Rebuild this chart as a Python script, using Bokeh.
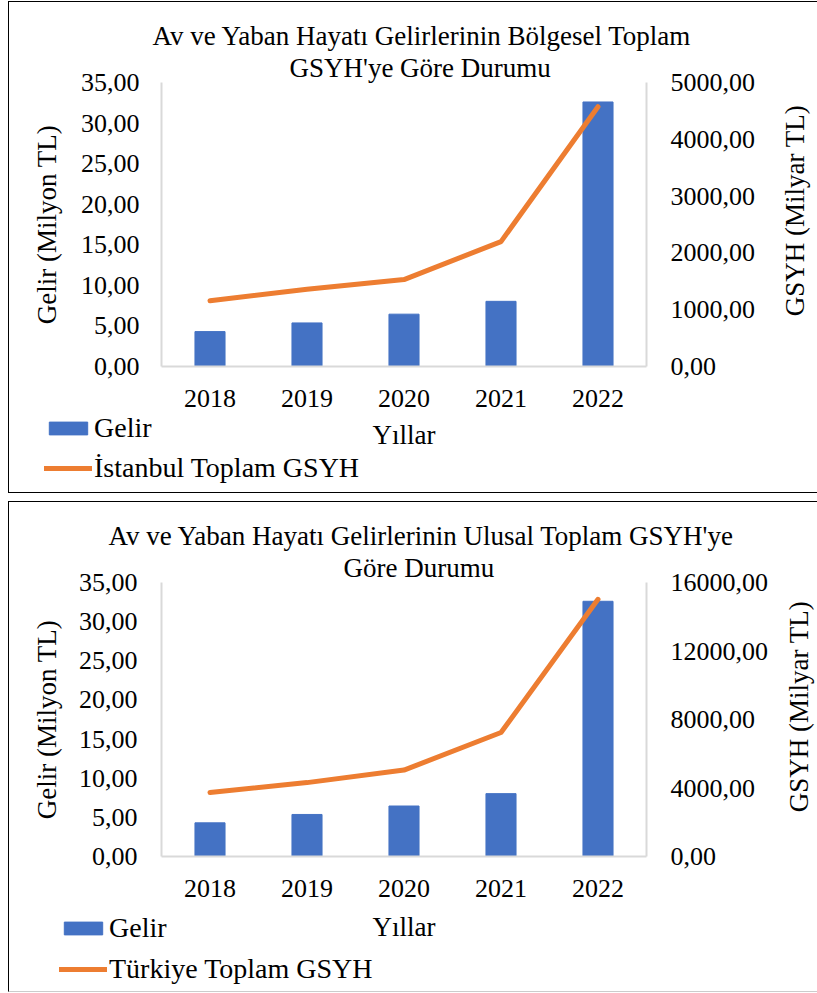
import math
from bokeh.plotting import figure
from bokeh.models import (FactorRange, Range1d, LinearAxis, FixedTicker,
                          Legend, LegendItem, Title)
from bokeh.core.properties import value
from bokeh.layouts import column
from bokeh.embed import file_html
from bokeh.resources import INLINE

# ---------------- data ----------------
years = ["2018", "2019", "2020", "2021", "2022"]
gelir = [4.30, 5.37, 6.45, 8.03, 32.60]            # Milyon TL
istanbul_gsyh = [1158, 1360, 1530, 2199, 4574]     # Milyar TL
turkiye_gsyh = [3740, 4315, 5045, 7240, 15020]     # Milyar TL

gelir_ticks = [0, 5, 10, 15, 20, 25, 30, 35]
gelir_tick_labels = ["0,00", "5,00", "10,00", "15,00", "20,00", "25,00", "30,00", "35,00"]
ist_ticks = [0, 1000, 2000, 3000, 4000, 5000]
ist_tick_labels = ["0,00", "1000,00", "2000,00", "3000,00", "4000,00", "5000,00"]
tr_ticks = [0, 4000, 8000, 12000, 16000]
tr_tick_labels = ["0,00", "4000,00", "8000,00", "12000,00", "16000,00"]

title1 = ["Av ve Yaban Hayatı Gelirlerinin Bölgesel Toplam", "GSYH'ye Göre Durumu"]
title2 = ["Av ve Yaban Hayatı Gelirlerinin Ulusal Toplam GSYH'ye", "Göre Durumu"]
gelir_axis_title = "Gelir (Milyon TL)"
gsyh_axis_title = "GSYH (Milyar TL)"
x_axis_title = "Yıllar"

FONT = "Liberation Serif"
BAR = "#4472C4"
LINE = "#ED7D31"
GRID = "#d9d9d9"
NAN = float("nan")


def panel(title_lines, title_offsets, gsyh, gsyh_max, gsyh_ticks, gsyh_labels,
          height, margin, mb_left, mb_right, mb_top, mb_bottom,
          lstand_left, alstand_left, lstand_right,
          x_stand, x_alstand, styles):
    p = figure(x_range=FactorRange(*years, range_padding=0),
               y_range=Range1d(0, 35),
               width=809, height=height, margin=margin,
               min_border_left=mb_left, min_border_right=mb_right,
               min_border_top=mb_top, min_border_bottom=mb_bottom,
               output_backend="svg", toolbar_location=None, tools="",
               outline_line_color=None, background_fill_color="white",
               border_fill_color="white", styles=styles)
    p.extra_y_ranges = {"gsyh": Range1d(0, gsyh_max)}

    # second title line first: it sits next to the frame
    for txt, off in reversed(list(zip(title_lines, title_offsets))):
        p.add_layout(Title(text=txt, align="left", offset=off, standoff=0,
                           text_font=FONT, text_font_size="27px",
                           text_font_style="normal", text_color="#000000"), "above")

    p.vbar(x=years, top=gelir, width=0.31, color=BAR, line_color=BAR)
    p.line(x=years, y=gsyh, y_range_name="gsyh", line_color=LINE,
           line_width=5, line_cap="round", line_join="round")

    p.xgrid.visible = False
    p.ygrid.visible = False

    la = p.yaxis[0]
    la.ticker = FixedTicker(ticks=gelir_ticks)
    la.major_label_overrides = dict(zip(gelir_ticks, gelir_tick_labels))
    la.axis_label = gelir_axis_title
    la.major_label_standoff = lstand_left
    la.axis_label_standoff = alstand_left

    ra = LinearAxis(y_range_name="gsyh", ticker=FixedTicker(ticks=gsyh_ticks))
    ra.major_label_overrides = dict(zip(gsyh_ticks, gsyh_labels))
    ra.major_label_standoff = lstand_right
    p.add_layout(ra, "right")

    xa = p.xaxis[0]
    xa.axis_label = x_axis_title
    xa.major_label_standoff = x_stand
    xa.axis_label_standoff = x_alstand

    for ax in (la, ra, xa):
        ax.axis_line_color = GRID
        ax.axis_line_width = 2
        ax.major_tick_line_color = None
        ax.minor_tick_line_color = None
        ax.major_tick_out = 0
        ax.major_tick_in = 0
        ax.major_label_text_font = FONT
        ax.major_label_text_font_size = "26px"
        ax.major_label_text_color = "#000000"
        ax.axis_label_text_font = FONT
        ax.axis_label_text_font_size = "27px"
        ax.axis_label_text_font_style = "normal"
        ax.axis_label_text_color = "#000000"
    return p


def overlay(line_label, height, margin, page_top, leg_loc, leg_spacing, rlabel_xy):
    """Transparent layer laid exactly over a chart panel (page-pixel coordinates):
    holds the legend and the right-hand axis title (read bottom to top)."""
    q = figure(width=809, height=height, margin=margin,
               x_range=Range1d(8, 817), y_range=Range1d(page_top + height, page_top),
               x_axis_type=None, y_axis_type=None,
               min_border=0, min_border_left=0, min_border_right=0,
               min_border_top=0, min_border_bottom=0,
               output_backend="svg", toolbar_location=None, tools="",
               outline_line_color=None, background_fill_alpha=0,
               border_fill_alpha=0,
               styles={"position": "relative", "z-index": "10"})
    try:
        q.frame_align = False
    except Exception:
        pass
    q.xgrid.visible = False
    q.ygrid.visible = False
    # legend-only renderers (no drawable point)
    b = q.vbar(x=[NAN], top=[NAN], width=0.31, color=BAR, line_color=BAR)
    l = q.line(x=[NAN, NAN], y=[NAN, NAN], line_color=LINE, line_width=5,
               line_cap="round", line_join="round")
    leg = Legend(items=[LegendItem(label="Gelir", renderers=[b]),
                        LegendItem(label=line_label, renderers=[l])],
                 location=leg_loc, orientation="vertical",
                 padding=0, margin=0, spacing=leg_spacing,
                 glyph_width=48, glyph_height=16, label_standoff=2, label_height=31,
                 label_text_font=FONT, label_text_font_size="28px",
                 label_text_color="#000000",
                 border_line_color=None, background_fill_alpha=0)
    q.add_layout(leg)
    q.text(x=[rlabel_xy[0]], y=[rlabel_xy[1]], text=[gsyh_axis_title],
           angle=math.pi / 2, text_align="center", text_baseline="middle",
           text_font=value(FONT), text_font_size=value("27px"), text_color="#000000")
    return q


p1 = panel(title1, [-9, 128], istanbul_gsyh, 5000, ist_ticks, ist_tick_labels,
           492, (1, 0, 0, 8),
           mb_left=150, mb_right=169, mb_top=80, mb_bottom=128,
           lstand_left=22, alstand_left=16, lstand_right=24,
           x_stand=23, x_alstand=10,
           styles={"border-left": "1px solid #000", "border-top": "1px solid #000",
                   "border-bottom": "1px solid #000"})
ov1 = overlay("İstanbul Toplam GSYH", 492, (-492, 0, 0, 8), 1,
              leg_loc=(36, 9), leg_spacing=8, rlabel_xy=(794, 210))

p2 = panel(title2, [-53, 182], turkiye_gsyh, 16000, tr_ticks, tr_tick_labels,
           491, (8, 0, 0, 8),
           mb_left=152, mb_right=172, mb_top=80, mb_bottom=137,
           lstand_left=24, alstand_left=14, lstand_right=24,
           x_stand=23, x_alstand=12,
           styles={"border-left": "1px solid #000", "border-top": "1px solid #000",
                   "border-bottom": "1px solid #cccccc"})
ov2 = overlay("Türkiye Toplam GSYH", 491, (-491, 0, 0, 8), 501,
              leg_loc=(51, 7), leg_spacing=9, rlabel_xy=(798, 706))

layout = column(p1, ov1, p2, ov2, spacing=0)
open("out.html", "w").write(file_html(layout, INLINE))
